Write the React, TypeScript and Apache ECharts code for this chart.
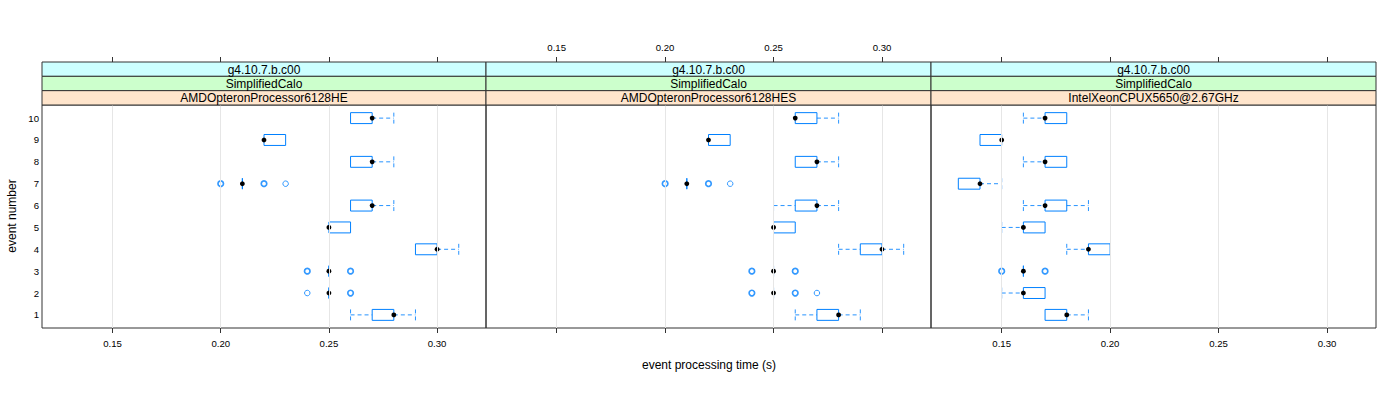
import React, { useEffect, useRef } from "react";
import * as echarts from "echarts";

// ---- data ----
const eventNumbers = [1, 2, 3, 4, 5, 6, 7, 8, 9, 10];
const xTicks = [0.15, 0.2, 0.25, 0.3];
const xMin = 0.1174;
const xMax = 0.3226;
const stripVersion = "g4.10.7.b.c00";
const stripConfig = "SimplifiedCalo";
const panelTitles = [
  "AMDOpteronProcessor6128HE",
  "AMDOpteronProcessor6128HES",
  "IntelXeonCPUX5650@2.67GHz",
];
const xTitle = "event processing time (s)";
const yTitle = "event number";

// [event, lowerWhisker, q1, median, q3, upperWhisker]
const heBoxes = [
  [1, 0.26, 0.27, 0.28, 0.28, 0.29],
  [2, 0.25, 0.25, 0.25, 0.25, 0.25],
  [3, 0.25, 0.25, 0.25, 0.25, 0.25],
  [4, 0.29, 0.29, 0.3, 0.3, 0.31],
  [5, 0.25, 0.25, 0.25, 0.26, 0.26],
  [6, 0.26, 0.26, 0.27, 0.27, 0.28],
  [7, 0.21, 0.21, 0.21, 0.21, 0.21],
  [8, 0.26, 0.26, 0.27, 0.27, 0.28],
  [9, 0.22, 0.22, 0.22, 0.23, 0.23],
  [10, 0.26, 0.26, 0.27, 0.27, 0.28],
];
// [value, event, count]
const heOutliers = [
  [0.24, 2, 1], [0.26, 2, 2],
  [0.24, 3, 2], [0.26, 3, 2],
  [0.2, 7, 2], [0.22, 7, 2], [0.23, 7, 1],
];

const hesBoxes = [
  [1, 0.26, 0.27, 0.28, 0.28, 0.29],
  [2, 0.25, 0.25, 0.25, 0.25, 0.25],
  [3, 0.25, 0.25, 0.25, 0.25, 0.25],
  [4, 0.28, 0.29, 0.3, 0.3, 0.31],
  [5, 0.25, 0.25, 0.25, 0.26, 0.26],
  [6, 0.25, 0.26, 0.27, 0.27, 0.28],
  [7, 0.21, 0.21, 0.21, 0.21, 0.21],
  [8, 0.26, 0.26, 0.27, 0.27, 0.28],
  [9, 0.22, 0.22, 0.22, 0.23, 0.23],
  [10, 0.26, 0.26, 0.26, 0.27, 0.28],
];
const hesOutliers = [
  [0.24, 2, 2], [0.26, 2, 2], [0.27, 2, 1],
  [0.24, 3, 2], [0.26, 3, 2],
  [0.2, 7, 2], [0.22, 7, 2], [0.23, 7, 1],
];

const intelBoxes = [
  [1, 0.17, 0.17, 0.18, 0.18, 0.19],
  [2, 0.15, 0.16, 0.16, 0.17, 0.17],
  [3, 0.16, 0.16, 0.16, 0.16, 0.16],
  [4, 0.18, 0.19, 0.19, 0.2, 0.2],
  [5, 0.15, 0.16, 0.16, 0.17, 0.17],
  [6, 0.16, 0.17, 0.17, 0.18, 0.19],
  [7, 0.13, 0.13, 0.14, 0.14, 0.15],
  [8, 0.16, 0.17, 0.17, 0.18, 0.18],
  [9, 0.14, 0.14, 0.15, 0.15, 0.15],
  [10, 0.16, 0.17, 0.17, 0.18, 0.18],
];
const intelOutliers = [
  [0.15, 3, 2], [0.17, 3, 2],
];

// ---- layout / style ----
const BLUE = "#0080ff";
const FONT = "'Liberation Sans', Arial, Helvetica, sans-serif";
const panelLefts = [42, 486, 931];
const panelWidths = [444, 445, 445];
const plotTop = 105;
const plotHeight = 223;
const stripTop = 62;
const stripH = (plotTop - stripTop) / 3;
const stripColors = ["#ccffff", "#ccffcc", "#ffe5cc"];

function renderBox(params: any, api: any) {
  const ev = api.value(0);
  const lo = api.value(1);
  const q1 = api.value(2);
  const med = api.value(3);
  const q3 = api.value(4);
  const hi = api.value(5);
  const pLo = api.coord([lo, ev]);
  const pQ1 = api.coord([q1, ev]);
  const pMed = api.coord([med, ev]);
  const pQ3 = api.coord([q3, ev]);
  const pHi = api.coord([hi, ev]);
  const h = api.size([0, 1])[1] * 0.25;
  const y = pMed[1];
  const wStyle = { stroke: BLUE, lineWidth: 1, lineDash: [4, 3], fill: "none", opacity: 0.85 };
  const children: any[] = [];
  if (lo < q1) {
    children.push({ type: "line", shape: { x1: pLo[0], y1: y, x2: pQ1[0], y2: y }, style: wStyle });
    children.push({ type: "line", shape: { x1: pLo[0], y1: y - h, x2: pLo[0], y2: y + h }, style: wStyle });
  }
  if (hi > q3) {
    children.push({ type: "line", shape: { x1: pQ3[0], y1: y, x2: pHi[0], y2: y }, style: wStyle });
    children.push({ type: "line", shape: { x1: pHi[0], y1: y - h, x2: pHi[0], y2: y + h }, style: wStyle });
  }
  children.push({
    type: "polygon",
    shape: { points: [[pQ1[0], y - h], [pQ3[0], y - h], [pQ3[0], y + h], [pQ1[0], y + h]] },
    style: { stroke: BLUE, lineWidth: 1, fill: "none" },
  });
  children.push({ type: "circle", shape: { cx: pMed[0], cy: y, r: 2.4 }, style: { fill: "#000" } });
  return { type: "group", children };
}

export default function App() {
  const ref = useRef<HTMLDivElement>(null);
  useEffect(() => {
    if (!ref.current) return;
    const chart = echarts.init(ref.current, undefined, { renderer: "svg" });
    const boxSets = [heBoxes, hesBoxes, intelBoxes];
    const outSets = [heOutliers, hesOutliers, intelOutliers];

    const grid: any[] = [];
    const xAxis: any[] = [];
    const yAxis: any[] = [];
    const series: any[] = [];
    const graphic: any[] = [];

    for (let i = 0; i < 3; i++) {
      grid.push({
        left: panelLefts[i],
        width: panelWidths[i],
        top: plotTop,
        height: plotHeight,
        show: true,
        borderColor: "#333",
        borderWidth: 1,
        backgroundColor: "transparent",
      });
      const labelBottom = i !== 1;
      xAxis.push({
        type: "value",
        gridIndex: i,
        position: "bottom",
        min: xMin,
        max: xMax,
        axisLine: { show: false },
        splitLine: { show: false },
        axisTick: { show: true, customValues: xTicks, length: 5, lineStyle: { color: "#333" } },
        axisLabel: {
          show: labelBottom,
          customValues: xTicks,
          formatter: (v: number) => v.toFixed(2),
          fontSize: 9.6,
          color: "#000",
          fontFamily: FONT,
          margin: 10,
        },
      });
      xAxis.push({
        type: "value",
        gridIndex: i,
        position: "top",
        offset: plotTop - stripTop,
        min: xMin,
        max: xMax,
        axisLine: { show: false },
        splitLine: { show: false },
        axisTick: { show: true, customValues: xTicks, length: 5, lineStyle: { color: "#333" } },
        axisLabel: {
          show: !labelBottom,
          customValues: xTicks,
          formatter: (v: number) => v.toFixed(2),
          fontSize: 9.6,
          color: "#000",
          fontFamily: FONT,
          margin: 10,
        },
      });
      yAxis.push({
        type: "value",
        gridIndex: i,
        min: 0.4,
        max: 10.6,
        axisLine: { show: false },
        axisTick: { show: false },
        splitLine: { show: false },
        axisLabel: {
          show: i === 0,
          customValues: eventNumbers,
          fontSize: 9.6,
          color: "#000",
          fontFamily: FONT,
          margin: 3,
        },
      });
      series.push({
        type: "scatter",
        xAxisIndex: 2 * i,
        yAxisIndex: i,
        z: 2,
        symbol: "circle",
        symbolSize: 5.5,
        itemStyle: { color: "rgba(0,0,0,0)", borderColor: BLUE, borderWidth: 1 },
        data: outSets[i].map((d) => ({
          value: d,
          itemStyle: { borderWidth: d[2] > 1 ? 1.7 : 1 },
        })),
        markLine: {
          silent: true,
          symbol: ["none", "none"],
          label: { show: false },
          lineStyle: { color: "#e6e6e6", type: "solid", width: 1 },
          data: xTicks.map((v) => ({ xAxis: v })),
        },
      });
      series.push({
        type: "custom",
        xAxisIndex: 2 * i,
        yAxisIndex: i,
        z: 3,
        renderItem: renderBox,
        encode: { x: [1, 2, 3, 4, 5], y: 0 },
        data: boxSets[i],
      });

      const stripTexts = [stripVersion, stripConfig, panelTitles[i]];
      for (let r = 0; r < 3; r++) {
        graphic.push({
          type: "rect",
          shape: { x: panelLefts[i], y: stripTop + r * stripH, width: panelWidths[i], height: stripH },
          style: { fill: stripColors[r], stroke: "#333", lineWidth: 1 },
          z: 10,
        });
        graphic.push({
          type: "text",
          x: panelLefts[i] + panelWidths[i] / 2,
          y: stripTop + r * stripH + stripH / 2 + 0.5,
          style: {
            text: stripTexts[r],
            fill: "#000",
            font: `12px ${FONT}`,
            align: "center",
            verticalAlign: "middle",
          },
          z: 11,
        });
      }
    }
    graphic.push({
      type: "text",
      x: 709,
      y: 365,
      style: { text: xTitle, fill: "#000", font: `12px ${FONT}`, align: "center", verticalAlign: "middle" },
    });
    graphic.push({
      type: "text",
      x: 12,
      y: 216,
      rotation: Math.PI / 2,
      style: { text: yTitle, fill: "#000", font: `12px ${FONT}`, align: "center", verticalAlign: "middle" },
    });

    chart.setOption({
      animation: false,
      backgroundColor: "#fff",
      grid,
      xAxis,
      yAxis,
      series,
      graphic,
    });
    return () => chart.dispose();
  }, []);
  return (
    <div
      ref={ref}
      style={{ position: "fixed", left: 0, top: 0, width: 1400, height: 400 }}
    />
  );
}
